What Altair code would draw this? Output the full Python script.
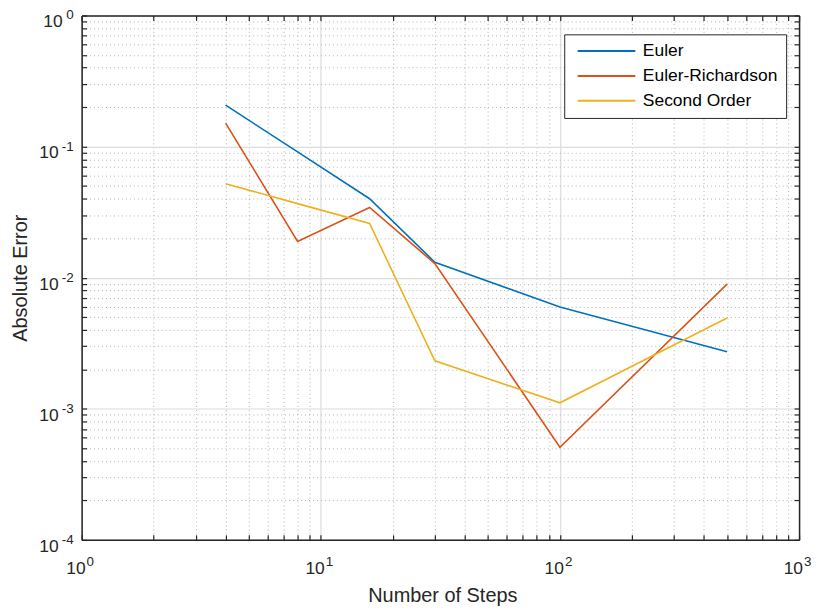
import altair as alt
import pandas as pd

steps = [4, 8, 16, 30, 100, 500]
euler = [0.207, 0.091, 0.040, 0.0131, 0.00597, 0.00272]
richardson = [0.151, 0.0189, 0.0343, 0.0128, 0.000508, 0.00893]
second = [0.0521, 0.0367, 0.0259, 0.00232, 0.00111, 0.00493]
series_names = ["Euler", "Euler-Richardson", "Second Order"]
colors = ["#0072BD", "#D95319", "#EDB120"]

x_major = [1, 10, 100, 1000]
x_exp = ["0", "1", "2", "3"]
y_major = [1e-4, 1e-3, 1e-2, 1e-1, 1]
y_exp = ["-4", "-3", "-2", "-1", "0"]
x_minor = [m * 10 ** k for k in range(3) for m in range(2, 10)]
y_minor = [m * 10.0 ** k for k in range(-4, 0) for m in range(2, 10)]

rows = []
for name, vals in zip(series_names, [euler, richardson, second]):
    for n, v in zip(steps, vals):
        rows.append({"steps": n, "error": v, "method": name})
df = pd.DataFrame(rows)
xl = pd.DataFrame({"v": x_major, "e": x_exp})
yl = pd.DataFrame({"v": y_major, "e": y_exp})

W, H = 721, 527
F = "Liberation Sans"
AX = "#262626"
xs = alt.Scale(type="log", domain=[1, 1000], nice=False)
ys = alt.Scale(type="log", domain=[1e-4, 1], nice=False)

lines = alt.Chart(df).mark_line(strokeWidth=1.6, clip=True).encode(
    x=alt.X("steps:Q", scale=xs, axis=alt.Axis(
        orient="bottom", values=x_major, labels=False, ticks=False, domainColor=AX, domainWidth=1.5,
        grid=True, gridColor="#dcdcdc", gridWidth=1.2,
        title="Number of Steps", titleFont=F, titleFontSize=20, titleFontWeight="normal",
        titleColor=AX, titleBaseline="alphabetic", titleX=W / 2 + 2, titleY=62)),
    y=alt.Y("error:Q", scale=ys, axis=alt.Axis(
        orient="left", values=y_major, labels=False, ticks=False, domainColor=AX, domainWidth=1.5,
        grid=True, gridColor="#dcdcdc", gridWidth=1.2,
        title="Absolute Error", titleFont=F, titleFontSize=20, titleFontWeight="normal",
        titleColor=AX, titleBaseline="alphabetic", titleX=-55, titleY=H / 2)),
    color=alt.Color("method:N", scale=alt.Scale(domain=series_names, range=colors),
                    legend=alt.Legend(title=None, orient="none", legendX=485, legendY=19,
                                      direction="vertical", strokeColor=AX, fillColor="white",
                                      padding=8, symbolType="M-0.45,0H7.55", symbolSize=210,
                                      symbolStrokeWidth=2, labelFont=F, labelFontSize=17.5,
                                      labelColor="black", labelOffset=53.5, labelLimit=300,
                                      rowPadding=6)),
)

minor = alt.Chart(df).mark_point(opacity=0).encode(
    x=alt.X("steps:Q", scale=xs, axis=alt.Axis(
        orient="bottom", values=x_minor, grid=True, gridDash=[1, 3], gridColor="#b4b4b4", gridWidth=1,
        labels=False, ticks=False, domain=False, title=None)),
    y=alt.Y("error:Q", scale=ys, axis=alt.Axis(
        orient="left", values=y_minor, grid=True, gridDash=[1, 3], gridColor="#b4b4b4", gridWidth=1,
        labels=False, ticks=False, domain=False, title=None)),
)

x_all = x_major + x_minor
y_all = y_major + y_minor

ticks_a = alt.Chart(df).mark_point(opacity=0).encode(
    x=alt.X("steps:Q", scale=xs, axis=alt.Axis(
        orient="top", offset=-H, values=x_all, grid=False, labels=False, domain=False,
        tickSize=5, tickColor=AX, tickWidth=1.2, title=None)),
    y=alt.Y("error:Q", scale=ys, axis=alt.Axis(
        orient="right", offset=-W, values=y_all, grid=False, labels=False, domain=False,
        tickSize=5, tickColor=AX, tickWidth=1.2, title=None)),
)

ticks_b = alt.Chart(df).mark_point(opacity=0).encode(
    x=alt.X("steps:Q", scale=xs, axis=alt.Axis(
        orient="bottom", offset=-H, values=x_all, grid=False, labels=False, domain=True,
        domainColor=AX, domainWidth=1.5,
        tickSize=5, tickColor=AX, tickWidth=1.2, title=None)),
    y=alt.Y("error:Q", scale=ys, axis=alt.Axis(
        orient="left", offset=-W, values=y_all, grid=False, labels=False, domain=True,
        domainColor=AX, domainWidth=1.5,
        tickSize=5, tickColor=AX, tickWidth=1.2, title=None)),
)

x_base = alt.Chart(xl).mark_text(text="10", align="right", baseline="alphabetic", dx=4, dy=34,
                                 fontSize=17.5, font=F, color=AX).encode(
    x=alt.X("v:Q", scale=xs, axis=None), y=alt.value(H))
x_sup = alt.Chart(xl).mark_text(align="left", baseline="alphabetic", dx=5, dy=26,
                                fontSize=13.5, font=F, color=AX).encode(
    x=alt.X("v:Q", scale=xs, axis=None), y=alt.value(H), text="e:N")

y_base0 = alt.Chart(yl).transform_filter("datum.e == '0'").mark_text(
    text="10", align="right", baseline="alphabetic", dx=-19, dy=12,
    fontSize=17.5, font=F, color=AX).encode(
    y=alt.Y("v:Q", scale=ys, axis=None), x=alt.value(0))
y_base1 = alt.Chart(yl).transform_filter("datum.e != '0'").mark_text(
    text="10", align="right", baseline="alphabetic", dx=-23, dy=12,
    fontSize=17.5, font=F, color=AX).encode(
    y=alt.Y("v:Q", scale=ys, axis=None), x=alt.value(0))
y_sup = alt.Chart(yl).mark_text(align="right", baseline="alphabetic", dx=-8, dy=4,
                                fontSize=13.5, font=F, color=AX).encode(
    y=alt.Y("v:Q", scale=ys, axis=None), x=alt.value(0), text="e:N")

chart = alt.layer(minor, ticks_a, ticks_b, lines, x_base, x_sup, y_base0, y_base1, y_sup).resolve_axis(
    x="independent", y="independent"
).properties(
    width=W, height=H,
    autosize=alt.AutoSizeParams(type="none"),
    padding={"left": 74, "top": 6, "right": 14, "bottom": 66},
).configure_view(stroke=None).configure(background="white")

chart.save("out.html", embed_options={"renderer": "svg", "actions": False})
